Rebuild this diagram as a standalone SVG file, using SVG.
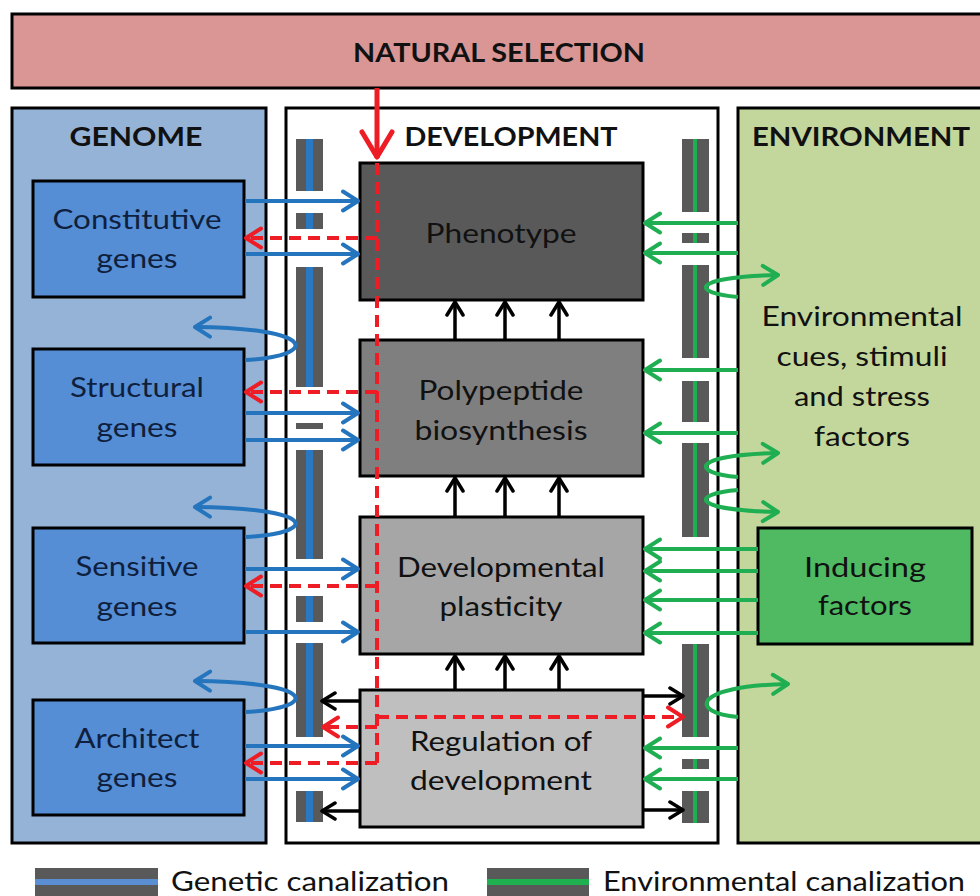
<svg xmlns="http://www.w3.org/2000/svg" width="980" height="896" viewBox="0 0 980 896">
<style>
text{font-family:Lato,"Liberation Sans",sans-serif;font-size:26px;text-anchor:middle;fill:#111}
.h{font-weight:bold;font-size:27px}
.g{fill:#0f1f3d}
.panel{stroke:#000;stroke-width:3}
.box{stroke:#000;stroke-width:3}
.bar{fill:#595959}
.bs{fill:#2b78c2}
.gs{fill:#1fae52}
.blue{stroke:#2475bd;stroke-width:4;fill:none;marker-end:url(#mb)}
.green{stroke:#1fae52;stroke-width:4;fill:none;marker-end:url(#mg)}
.black{stroke:#000;stroke-width:3.5;fill:none;marker-end:url(#mk)}
.red{stroke:#ee1c24;stroke-width:4;fill:none;stroke-dasharray:12 7}
.redh{stroke:#ee1c24;stroke-width:4;fill:none;stroke-dasharray:12 7;marker-end:url(#mr)}
</style>
<defs>
<marker id="mb" viewBox="0 0 20 24" refX="18" refY="12" markerWidth="20" markerHeight="24" markerUnits="userSpaceOnUse" orient="auto"><path d="M3,2.5 L18,12 L3,21.5" fill="none" stroke="#2475bd" stroke-width="4" stroke-linecap="round" stroke-linejoin="round"/></marker>
<marker id="mg" viewBox="0 0 20 24" refX="18" refY="12" markerWidth="20" markerHeight="24" markerUnits="userSpaceOnUse" orient="auto"><path d="M3,2.5 L18,12 L3,21.5" fill="none" stroke="#1fae52" stroke-width="4" stroke-linecap="round" stroke-linejoin="round"/></marker>
<marker id="mk" viewBox="0 0 18 22" refX="16" refY="11" markerWidth="18" markerHeight="22" markerUnits="userSpaceOnUse" orient="auto"><path d="M3,3 L16,11 L3,19" fill="none" stroke="#000" stroke-width="3.5" stroke-linecap="round" stroke-linejoin="round"/></marker>
<marker id="mr" viewBox="0 0 20 24" refX="18" refY="12" markerWidth="20" markerHeight="24" markerUnits="userSpaceOnUse" orient="auto"><path d="M3,2.5 L18,12 L3,21.5" fill="none" stroke="#ee1c24" stroke-width="4" stroke-linecap="round" stroke-linejoin="round"/></marker>
</defs>
<rect width="980" height="896" fill="#fff"/>

<g id="natural-selection">
<rect x="12" y="14" width="990" height="74" fill="#d99694" class="panel"/>
<text x="499" y="62" class="h" textLength="292" lengthAdjust="spacingAndGlyphs">NATURAL SELECTION</text>
</g>

<g id="genome">
<rect x="12" y="108" width="254" height="735" fill="#95b3d7" class="panel"/>
<text x="136" y="146" class="h" textLength="133" lengthAdjust="spacingAndGlyphs">GENOME</text>
</g>
<g id="development">
<rect x="286" y="108" width="432" height="735" fill="#fff" class="panel"/>
<text x="511" y="146" class="h" textLength="213" lengthAdjust="spacingAndGlyphs">DEVELOPMENT</text>
</g>
<g id="environment">
<rect x="738" y="108" width="260" height="735" fill="#c3d69b" class="panel"/>
<text x="861" y="146" class="h" textLength="218" lengthAdjust="spacingAndGlyphs">ENVIRONMENT</text>
</g>

<g id="genetic-canalization-bars">
<rect class="bar" x="296" y="139" width="27" height="52"/><rect class="bs" x="306" y="139" width="7" height="52"/>
<rect class="bar" x="296" y="213" width="27" height="16"/><rect class="bs" x="306" y="213" width="7" height="16"/>
<rect class="bar" x="296" y="267" width="27" height="120"/><rect class="bs" x="306" y="267" width="7" height="120"/>
<rect class="bar" x="296" y="423" width="27" height="6"/>
<rect class="bar" x="296" y="450" width="27" height="109"/><rect class="bs" x="306" y="450" width="7" height="109"/>
<rect class="bar" x="296" y="596" width="27" height="26"/><rect class="bs" x="306" y="596" width="7" height="26"/>
<rect class="bar" x="296" y="643" width="27" height="94"/><rect class="bs" x="306" y="643" width="7" height="94"/>
<rect class="bar" x="296" y="791" width="27" height="31"/><rect class="bs" x="306" y="791" width="7" height="31"/>
</g>
<g id="environmental-canalization-bars">
<rect class="bar" x="682" y="139" width="27" height="73"/><rect class="gs" x="693" y="139" width="4" height="73"/>
<rect class="bar" x="682" y="233" width="27" height="10"/><rect class="gs" x="693" y="233" width="4" height="10"/>
<rect class="bar" x="682" y="265" width="27" height="93"/><rect class="gs" x="693" y="265" width="4" height="93"/>
<rect class="bar" x="682" y="381" width="27" height="41"/><rect class="gs" x="693" y="381" width="4" height="41"/>
<rect class="bar" x="682" y="443" width="27" height="94"/><rect class="gs" x="693" y="443" width="4" height="94"/>
<rect class="bar" x="682" y="644" width="27" height="93"/><rect class="gs" x="693" y="644" width="4" height="93"/>
<rect class="bar" x="682" y="759" width="27" height="10"/><rect class="gs" x="693" y="759" width="4" height="10"/>
<rect class="bar" x="682" y="791" width="27" height="32"/><rect class="gs" x="693" y="791" width="4" height="32"/>
</g>

<g id="constitutive-genes">
<rect x="33" y="181" width="211" height="116" fill="#558ed5" class="box"/>
<text class="g" x="137" y="229" textLength="169" lengthAdjust="spacingAndGlyphs">Constitutive</text>
<text class="g" x="137" y="268" textLength="81" lengthAdjust="spacingAndGlyphs">genes</text>
</g>
<g id="structural-genes">
<rect x="33" y="349" width="211" height="116" fill="#558ed5" class="box"/>
<text class="g" x="137" y="397" textLength="134" lengthAdjust="spacingAndGlyphs">Structural</text>
<text class="g" x="137" y="437" textLength="81" lengthAdjust="spacingAndGlyphs">genes</text>
</g>
<g id="sensitive-genes">
<rect x="33" y="528" width="211" height="115" fill="#558ed5" class="box"/>
<text class="g" x="137" y="576" textLength="123" lengthAdjust="spacingAndGlyphs">Sensitive</text>
<text class="g" x="137" y="616" textLength="81" lengthAdjust="spacingAndGlyphs">genes</text>
</g>
<g id="architect-genes">
<rect x="33" y="700" width="211" height="115" fill="#558ed5" class="box"/>
<text class="g" x="137" y="748" textLength="125" lengthAdjust="spacingAndGlyphs">Architect</text>
<text class="g" x="137" y="787" textLength="81" lengthAdjust="spacingAndGlyphs">genes</text>
</g>

<g id="phenotype">
<rect x="360" y="163" width="283" height="137" fill="#595959" class="box"/>
<text x="501" y="243" textLength="151" lengthAdjust="spacingAndGlyphs">Phenotype</text>
</g>
<g id="polypeptide-biosynthesis">
<rect x="360" y="340" width="283" height="136" fill="#7f7f7f" class="box"/>
<text x="501" y="400" textLength="165" lengthAdjust="spacingAndGlyphs">Polypeptide</text>
<text x="501" y="440" textLength="173" lengthAdjust="spacingAndGlyphs">biosynthesis</text>
</g>
<g id="developmental-plasticity">
<rect x="360" y="517" width="283" height="137" fill="#a6a6a6" class="box"/>
<text x="501" y="577" textLength="208" lengthAdjust="spacingAndGlyphs">Developmental</text>
<text x="501" y="616" textLength="123" lengthAdjust="spacingAndGlyphs">plasticity</text>
</g>
<g id="regulation-of-development">
<rect x="360" y="690" width="283" height="137" fill="#bfbfbf" class="box"/>
<text x="501" y="751" textLength="182" lengthAdjust="spacingAndGlyphs">Regulation of</text>
<text x="501" y="790" textLength="182" lengthAdjust="spacingAndGlyphs">development</text>
</g>

<g id="environmental-cues">
<text x="862" y="326" textLength="201" lengthAdjust="spacingAndGlyphs">Environmental</text>
<text x="862" y="366" textLength="171" lengthAdjust="spacingAndGlyphs">cues, stimuli</text>
<text x="862" y="406" textLength="136" lengthAdjust="spacingAndGlyphs">and stress</text>
<text x="862" y="446" textLength="96" lengthAdjust="spacingAndGlyphs">factors</text>
</g>
<g id="inducing-factors">
<rect x="758" y="528" width="214" height="116" fill="#4fba62" class="box"/>
<text x="865" y="577" textLength="122" lengthAdjust="spacingAndGlyphs">Inducing</text>
<text x="865" y="615" textLength="94" lengthAdjust="spacingAndGlyphs">factors</text>
</g>

<g id="connectors">
<path class="blue" d="M245,201 H358"/>
<path class="blue" d="M245,254 H358"/>
<path class="blue" d="M245,413 H358"/>
<path class="blue" d="M245,440 H358"/>
<path class="blue" d="M245,569 H358"/>
<path class="blue" d="M245,632 H358"/>
<path class="blue" d="M245,746 H358"/>
<path class="blue" d="M245,779 H358"/>
<path class="blue" d="M245,360 C320,356 318,328 195,327"/>
<path class="blue" d="M245,537 C320,533 318,508 195,507"/>
<path class="blue" d="M245,712 C320,708 318,682 195,681"/>
<path class="green" d="M738,223 H645"/>
<path class="green" d="M738,253 H645"/>
<path class="green" d="M738,370 H645"/>
<path class="green" d="M738,433 H645"/>
<path class="green" d="M758,549 H645"/>
<path class="green" d="M758,571 H645"/>
<path class="green" d="M758,600 H645"/>
<path class="green" d="M758,633 H645"/>
<path class="green" d="M738,748 H645"/>
<path class="green" d="M738,779 H645"/>
<path class="green" d="M738,297 C690,293 690,277 778,275"/>
<path class="green" d="M738,477 C690,473 690,455 778,453"/>
<path class="green" d="M738,490 C690,494 690,510 778,512"/>
<path class="green" d="M738,717 C690,713 690,686 788,684"/>
<path class="black" d="M455,340 V302"/>
<path class="black" d="M505,340 V302"/>
<path class="black" d="M559,340 V302"/>
<path class="black" d="M455,517 V478"/>
<path class="black" d="M505,517 V478"/>
<path class="black" d="M559,517 V478"/>
<path class="black" d="M455,690 V656"/>
<path class="black" d="M505,690 V656"/>
<path class="black" d="M559,690 V656"/>
<path class="black" d="M360,701 H322"/>
<path class="black" d="M360,811 H322"/>
<path class="black" d="M643,696 H683"/>
<path class="black" d="M643,810 H683"/>
<path d="M377,88 V158" stroke="#ee1c24" stroke-width="5" fill="none"/>
<path d="M362,132 L377,157 L392,132" stroke="#ee1c24" stroke-width="5" fill="none" stroke-linecap="round" stroke-linejoin="round"/>
<path class="red" d="M377,163 V763"/>
<path class="redh" d="M377,238 H246"/>
<path class="redh" d="M377,392 H246"/>
<path class="redh" d="M377,586 H246"/>
<path class="redh" d="M377,727 H323"/>
<path class="redh" d="M377,763 H246"/>
<path class="redh" d="M377,717 H683"/>
</g>

<g id="legend">
<rect class="bar" x="35" y="868" width="123" height="30"/>
<rect x="35" y="879" width="123" height="6" fill="#5b8fd4"/>
<text x="310" y="891" textLength="278" lengthAdjust="spacingAndGlyphs">Genetic canalization</text>
<rect class="bar" x="487" y="868" width="102" height="30"/>
<rect x="487" y="879" width="102" height="6" fill="#1fb050"/>
<text x="784" y="891" textLength="362" lengthAdjust="spacingAndGlyphs">Environmental canalization</text>
</g>
</svg>
